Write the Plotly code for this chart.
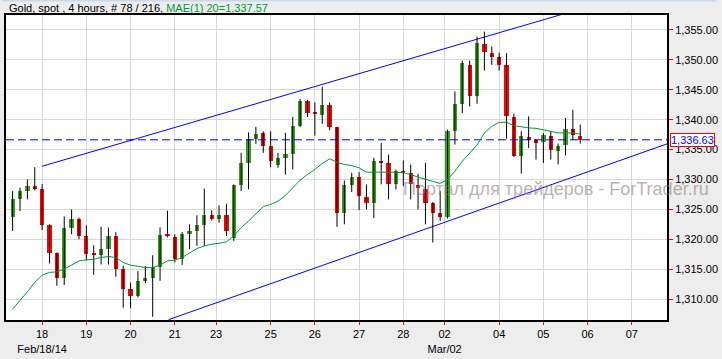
import plotly.graph_objects as go

# ---- data (4-hour candles) ----
opens = [1323.72, 1326.67, 1328.0, 1328.83, 1328.33, 1322.33, 1317.67, 1313.5, 1321.83, 1323.33,
         1320.5, 1317.5, 1317.33, 1318.33, 1320.5, 1315.05, 1311.67, 1310.55, 1313.05, 1313.5,
         1315.38, 1320.67, 1320.45, 1316.67, 1320.83, 1321.38, 1322.33, 1324.0, 1323.33, 1324.0,
         1320.28, 1329.0, 1332.67, 1336.78, 1337.78, 1335.55, 1332.5, 1333.67, 1334.33, 1339.0,
         1343.05, 1341.05, 1340.83, 1342.5, 1338.72, 1324.38, 1329.05, 1330.45, 1327.0, 1326.12,
         1333.17, 1332.83, 1329.28, 1331.22, 1331.12, 1329.0, 1328.45, 1326.0, 1324.33, 1323.72,
         1338.17, 1342.67, 1349.17, 1344.0, 1352.67, 1351.22, 1350.45, 1349.17, 1340.45, 1333.88,
         1337.12, 1336.55, 1336.22, 1337.33, 1334.72, 1335.83, 1338.5, 1337.33]
highs = [1328.05, 1328.62, 1330.0, 1332.05, 1329.22, 1322.5, 1317.8, 1323.83, 1325.0, 1323.62,
         1322.33, 1319.0, 1322.12, 1321.95, 1321.17, 1315.55, 1312.78, 1314.67, 1315.55, 1317.33,
         1322.0, 1324.78, 1320.83, 1321.22, 1322.5, 1324.0, 1328.45, 1324.83, 1325.67, 1325.95,
         1329.17, 1334.45, 1337.88, 1338.78, 1338.05, 1338.05, 1334.45, 1337.78, 1340.45, 1343.45,
         1343.33, 1342.88, 1345.5, 1342.88, 1338.8, 1329.83, 1331.12, 1331.22, 1329.17, 1333.62,
         1336.12, 1334.17, 1331.67, 1333.17, 1332.5, 1330.95, 1332.78, 1326.22, 1328.05, 1338.33,
         1344.72, 1349.88, 1349.88, 1353.88, 1354.72, 1352.22, 1351.22, 1351.12, 1341.0, 1338.05,
         1340.55, 1336.67, 1337.78, 1338.05, 1336.0, 1340.28, 1341.67, 1339.17]
lows = [1321.38, 1324.72, 1326.67, 1328.2, 1321.55, 1315.95, 1312.22, 1312.38, 1320.83, 1320.0,
        1316.5, 1314.05, 1315.78, 1315.78, 1313.72, 1308.55, 1308.45, 1310.28, 1312.67, 1307.05,
        1313.05, 1320.33, 1316.12, 1315.72, 1318.33, 1318.88, 1318.88, 1323.17, 1322.78, 1320.55,
        1319.72, 1328.05, 1328.33, 1335.95, 1334.45, 1332.05, 1331.95, 1330.83, 1331.67, 1338.78,
        1340.45, 1337.33, 1339.28, 1338.22, 1322.08, 1322.5, 1327.88, 1324.88, 1325.0, 1323.55,
        1329.17, 1326.67, 1328.33, 1328.88, 1326.67, 1325.0, 1322.5, 1319.45, 1323.05, 1323.45,
        1335.83, 1341.12, 1342.22, 1342.67, 1348.22, 1349.17, 1348.22, 1336.83, 1333.78, 1331.0,
        1335.28, 1333.33, 1332.78, 1333.33, 1332.5, 1334.0, 1336.55, 1336.0]
closes = [1326.67, 1328.05, 1328.83, 1328.33, 1322.33, 1317.72, 1313.5, 1321.83, 1323.33, 1320.5,
          1317.62, 1317.42, 1318.33, 1320.5, 1315.05, 1311.67, 1310.55, 1313.0, 1313.5, 1315.38,
          1320.67, 1320.55, 1316.67, 1320.83, 1321.38, 1322.33, 1324.0, 1323.33, 1324.0, 1321.38,
          1329.0, 1332.67, 1336.78, 1337.67, 1335.55, 1333.05, 1333.67, 1334.33, 1339.0, 1343.05,
          1341.12, 1340.95, 1342.5, 1338.72, 1324.38, 1329.0, 1330.45, 1327.22, 1326.12, 1333.17,
          1332.88, 1329.28, 1331.45, 1331.12, 1329.17, 1328.55, 1326.0, 1324.33, 1323.72, 1338.17,
          1342.67, 1349.55, 1343.88, 1352.78, 1351.38, 1350.45, 1349.17, 1340.55, 1334.0, 1337.22,
          1336.67, 1336.22, 1337.5, 1334.88, 1335.67, 1338.5, 1337.5, 1336.63]
ma20 = [1308.33, 1309.72, 1311.22, 1312.78, 1314.0, 1314.45, 1314.55, 1315.0, 1315.67, 1316.38,
        1316.55, 1316.67, 1316.95, 1317.12, 1316.95, 1316.12, 1315.67, 1315.45, 1315.28, 1315.28,
        1315.67, 1316.38, 1316.5, 1316.95, 1317.67, 1318.45, 1318.88, 1319.17, 1319.33, 1319.55,
        1320.55, 1321.95, 1323.05, 1324.17, 1325.45, 1325.83, 1326.38, 1327.33, 1328.62, 1329.88,
        1330.83, 1331.67, 1332.67, 1333.45, 1332.88, 1332.5, 1332.33, 1331.95, 1331.22, 1331.22,
        1331.33, 1331.33, 1331.22, 1331.12, 1330.83, 1330.38, 1330.0, 1329.72, 1329.33, 1330.0,
        1331.38, 1333.05, 1334.45, 1335.75, 1337.78, 1338.88, 1339.55, 1339.55, 1339.0, 1338.78,
        1338.62, 1338.55, 1338.33, 1338.05, 1337.78, 1337.78, 1337.78, 1337.57]

tick_pos = [4, 10, 16, 22, 27.6, 35, 41, 47, 53, 58.6, 66, 72, 78, 84]
tick_text = ["18<br>Feb/18/14", "19", "20", "21", "23", "25", "26", "27", "28",
             "02<br>Mar/02", "04", "05", "06", "07"]
price_ticks = [1310, 1315, 1320, 1325, 1330, 1335, 1340, 1345, 1350, 1355]
last_price = 1336.63
upper_channel_x = [3.97, 75.0]
upper_channel_y = [1332.2, 1357.78]
lower_channel_x = [21.15, 88.77]
lower_channel_y = [1306.55, 1335.95]
x_range = [-0.9, 88.77]
y_range = [1306.5, 1357.5]

GREEN = "#3c9a1e"
RED = "#ff0000"
FONT = "Liberation Sans, Arial, sans-serif"

idx = list(range(len(opens)))

# wicks
wx, wy = [], []
for i, h, l in zip(idx, highs, lows):
    wx += [i, i, None]
    wy += [l, h, None]

body_base = [min(o, c) for o, c in zip(opens, closes)]
body_h = [max(abs(c - o), 0.2) for o, c in zip(opens, closes)]
body_col = [GREEN if c > o else RED for o, c in zip(opens, closes)]

fig = go.Figure()
fig.add_trace(go.Scatter(x=upper_channel_x, y=upper_channel_y, mode="lines",
                         line=dict(color="#0000ff", width=1), hoverinfo="skip"))
fig.add_trace(go.Scatter(x=lower_channel_x, y=lower_channel_y, mode="lines",
                         line=dict(color="#0000ff", width=1), hoverinfo="skip"))
fig.add_trace(go.Scatter(x=[x_range[0], x_range[1]], y=[last_price, last_price], mode="lines",
                         line=dict(color="#0000ff", width=1, dash="8px,4px"), hoverinfo="skip"))
fig.add_trace(go.Scatter(x=wx, y=wy, mode="lines", line=dict(color="black", width=1),
                         hoverinfo="skip"))
fig.add_trace(go.Bar(x=idx, y=body_h, base=body_base, width=0.58,
                     marker=dict(color=body_col, line=dict(width=0)), hoverinfo="skip"))
fig.add_trace(go.Scatter(x=idx, y=ma20, mode="lines", line=dict(color="#009933", width=1),
                         hoverinfo="skip"))

W, H = 722, 359
ml, mr, mt, mb = 4, 50, 15, 38
pw, ph = W - ml - mr, H - mt - mb

fig.update_layout(
    width=W, height=H,
    margin=dict(l=ml, r=mr, t=mt, b=mb),
    paper_bgcolor="#ededed", plot_bgcolor="white",
    showlegend=False, bargap=0,
    font=dict(family=FONT, size=11, color="black"),
    xaxis=dict(range=x_range, tickmode="array", tickvals=tick_pos, ticktext=tick_text,
               showgrid=True, gridcolor="#d8d8d8", gridwidth=1,
               ticks="outside", ticklen=3, tickcolor="red", tickwidth=1,
               showline=True, linecolor="black", linewidth=2, mirror=True,
               zeroline=False, tickfont=dict(size=11)),
    yaxis=dict(range=y_range, side="right", tickmode="array", tickvals=price_ticks,
               tickformat=",.2f", showgrid=True, gridcolor="#d8d8d8", gridwidth=1,
               ticks="outside", ticklen=4, tickcolor="red", tickwidth=1,
               showline=True, linecolor="black", linewidth=2, mirror=True,
               zeroline=False, tickfont=dict(size=11)),
)

# title
fig.add_annotation(xref="paper", yref="paper", x=(5 - ml) / pw, y=1 + (mt - 7.5) / ph,
                   xanchor="left", yanchor="middle", showarrow=False,
                   text="Gold, spot , 4 hours, # 78 / 216, "
                        "<span style='color:#009933'>MAE(1) 20=1,337.57</span>",
                   font=dict(size=11, color="black"))
# last price label
fig.add_annotation(xref="paper", yref="y", x=(675 - ml) / pw, y=last_price,
                   xanchor="left", yanchor="middle", showarrow=False,
                   text="1,336.63", font=dict(size=11, color="#0000ff"),
                   bordercolor="red", borderwidth=1, borderpad=0, bgcolor="white")
# watermark
fig.add_annotation(xref="paper", yref="paper", x=(560 - ml) / pw, y=(H - mb - 190) / ph,
                   xanchor="center", yanchor="middle", showarrow=False,
                   text="Портал для трейдеров - ForTrader.ru",
                   font=dict(size=18, color="rgba(140,125,125,0.6)"))
# light top stripe
fig.add_shape(type="rect", xref="paper", yref="paper", x0=-ml / pw, x1=1 + mr / pw,
              y0=1 + (mt - 1.5) / ph, y1=1 + mt / ph, fillcolor="#c9d9ee", line=dict(width=0),
              layer="above")

fig.write_html("out.html")
